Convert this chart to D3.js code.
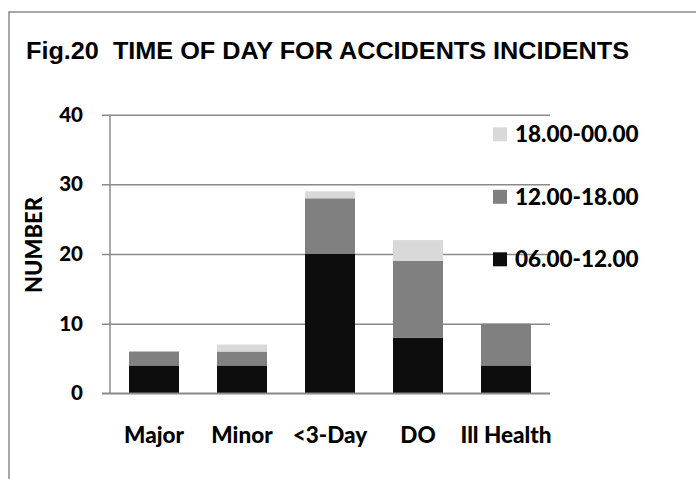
<!DOCTYPE html>
<html>
<head>
<meta charset="utf-8">
<script src="https://cdn.jsdelivr.net/npm/d3@7"></script>
<style>
  html, body { margin: 0; padding: 0; background: #fff; }
  svg { display: block; }
</style>
</head>
<body>
<script>
const categories = ["Major", "Minor", "<3-Day", "DO", "Ill Health"];
const series = ["06.00-12.00", "12.00-18.00", "18.00-00.00"];
const morning = [4, 4, 20, 8, 4];     // 06.00-12.00
const afternoon = [2, 2, 8, 11, 6];   // 12.00-18.00
const evening = [0, 1, 1, 3, 0];      // 18.00-00.00
const yTicks = [0, 10, 20, 30, 40];
const title = "Fig.20  TIME OF DAY FOR ACCIDENTS INCIDENTS";
const yTitle = "NUMBER";

const colors = { "06.00-12.00": "#0d0d0d", "12.00-18.00": "#808080", "18.00-00.00": "#d9d9d9" };

const W = 696, H = 479;
const svg = d3.select("body").append("svg").attr("width", W).attr("height", H);

// outer frame (extends beyond the visible window on right/bottom)
svg.append("rect").attr("x", 9).attr("y", 12).attr("width", W + 20).attr("height", H + 20)
  .attr("fill", "#fff").attr("stroke", "#8a8a8a").attr("stroke-width", 1.5);

svg.append("text").attr("x", 26).attr("y", 59).style("white-space", "pre")
  .attr("font-family", "Liberation Sans, Arial, sans-serif").attr("font-weight", "bold")
  .attr("font-size", 23.5).attr("textLength", 603).attr("lengthAdjust", "spacingAndGlyphs")
  .attr("fill", "#000").text(title);

const x = d3.scaleBand().domain(categories).range([110, 550]).paddingInner(0.432).paddingOuter(0.216);
const y = d3.scaleLinear().domain([0, 40]).range([393.3, 114.7]);

const labelFont = "Lato, 'Open Sans', sans-serif";
const labelWeight = 900;

// gridlines + tick marks
const yAxis = d3.axisLeft(y).tickValues(yTicks).tickSize(-(550 - 110)).tickPadding(27).tickFormat(d3.format("d"));
const gy = svg.append("g").attr("transform", "translate(110,0)").call(yAxis);
gy.select(".domain").remove();
gy.selectAll(".tick line").attr("stroke", "#8a8a8a").attr("stroke-width", 1.5).attr("x1", -8);
gy.selectAll(".tick text").attr("font-family", labelFont).attr("font-weight", labelWeight)
  .attr("font-size", 20.5).attr("fill", "#000");

// stacked bars
const table = categories.map((c, i) => ({ cat: c, "06.00-12.00": morning[i], "12.00-18.00": afternoon[i], "18.00-00.00": evening[i] }));
const stack = d3.stack().keys(series)(table);
svg.append("g").selectAll("g").data(stack).join("g")
  .attr("fill", d => colors[d.key])
  .selectAll("rect").data(d => d.filter(p => p[1] > p[0])).join("rect")
  .attr("x", d => x(d.data.cat)).attr("width", x.bandwidth())
  .attr("y", d => y(d[1])).attr("height", d => y(d[0]) - y(d[1]));

// y axis line
svg.append("line").attr("x1", 110).attr("x2", 110).attr("y1", y(40)).attr("y2", y(0))
  .attr("stroke", "#8a8a8a").attr("stroke-width", 1.5);
// baseline
svg.append("line").attr("x1", 102).attr("x2", 550).attr("y1", y(0)).attr("y2", y(0))
  .attr("stroke", "#8a8a8a").attr("stroke-width", 1.5);

// x axis labels
const xAxis = d3.axisBottom(x).tickSize(0).tickPadding(0);
const gx = svg.append("g").attr("transform", "translate(0,443)").call(xAxis);
gx.select(".domain").remove();
gx.selectAll(".tick text").attr("dy", 0).attr("font-family", labelFont).attr("font-weight", labelWeight)
  .attr("font-size", 22.5).attr("fill", "#000");

// y title
svg.append("text").attr("transform", "translate(42,245) rotate(-90)").attr("text-anchor", "middle")
  .attr("font-family", labelFont).attr("font-weight", labelWeight).attr("font-size", 22).attr("fill", "#000")
  .text(yTitle);

// legend (top to bottom: evening, afternoon, morning)
const legendOrder = ["18.00-00.00", "12.00-18.00", "06.00-12.00"];
const legendY = d3.scalePoint().domain(legendOrder).range([134.3, 259.3]);
const lg = svg.append("g").selectAll("g").data(legendOrder).join("g")
  .attr("transform", d => `translate(493,${legendY(d)})`);
lg.append("rect").attr("x", 0).attr("y", -7).attr("width", 14).attr("height", 14).attr("fill", d => colors[d]);
lg.append("text").attr("x", 22).attr("y", 0).attr("dy", "0.36em")
  .attr("font-family", labelFont).attr("font-weight", labelWeight).attr("font-size", 22.5).attr("fill", "#000")
  .text(d => d);
</script>
</body>
</html>
